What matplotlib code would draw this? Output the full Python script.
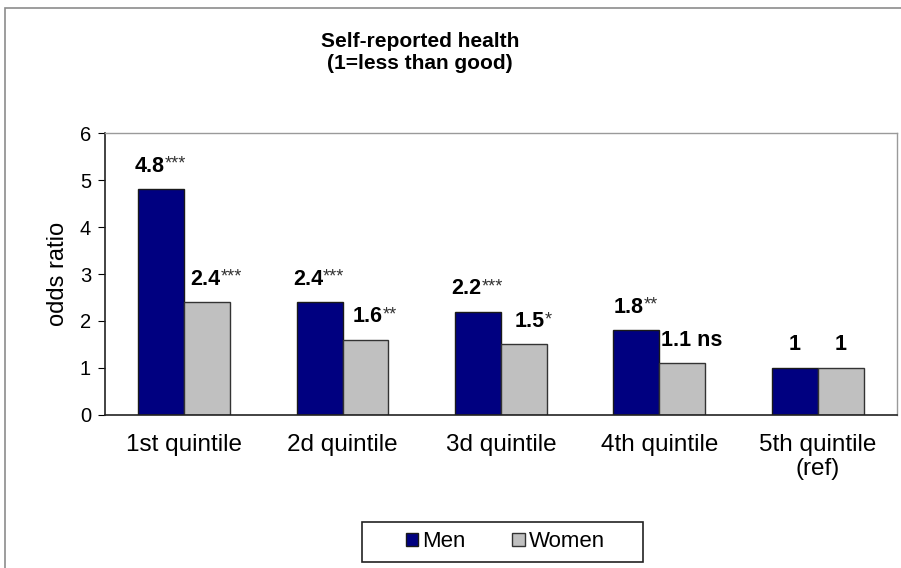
import numpy as np
import matplotlib.pyplot as plt
from matplotlib.patches import Rectangle

plt.rcParams['font.family'] = ['Liberation Sans', 'DejaVu Sans']

# data
categories = ["1st quintile", "2d quintile", "3d quintile", "4th quintile", "5th quintile\n(ref)"]
men = [4.8, 2.4, 2.2, 1.8, 1.0]
women = [2.4, 1.6, 1.5, 1.1, 1.0]
men_labels = ["4.8", "2.4", "2.2", "1.8", "1"]
men_stars = ["***", "***", "***", "**", ""]
women_labels = ["2.4", "1.6", "1.5", "1.1 ns", "1"]
women_stars = ["***", "**", "*", "", ""]

fig = plt.figure(figsize=(9.01, 5.68), dpi=100)
ax = fig.add_axes([0.1165, 0.2694, 0.879, 0.4964])

# outer chart border (left and top visible)
fig.patches.append(Rectangle((5 / 901, -0.1), 1.2, 1.1 - 8 / 568, transform=fig.transFigure,
                             fill=False, edgecolor="#8c8c8c", linewidth=1.2))

x = np.arange(len(categories))
w = 0.29
b1 = ax.bar(x - w / 2, men, w, color="#000080", edgecolor="#1a1a1a", linewidth=1, label="Men")
b2 = ax.bar(x + w / 2, women, w, color="#c0c0c0", edgecolor="#333333", linewidth=1, label="Women")


def add_label(xp, v, txt, stars, dx):
    shift = -len(stars) * 2.8
    t = ax.annotate(txt, xy=(xp, v), xytext=(dx + shift, 9), textcoords="offset points",
                    ha="center", va="bottom", fontsize=15.5, fontweight="bold")
    if stars:
        ax.annotate(stars, xy=(1.0, 1.0), xycoords=t, ha="left", va="top", fontsize=13,
                    color="#333333")


for i in range(len(categories)):
    add_label(x[i] - w / 2, men[i], men_labels[i], men_stars[i], 0)
    dx = 7 if i < len(categories) - 1 else 0
    add_label(x[i] + w / 2, women[i], women_labels[i], women_stars[i], dx)

ax.set_xlim(-0.5, len(categories) - 0.5)
ax.set_ylim(0, 6)
ax.set_yticks(range(0, 7))
ax.set_xticks(x)
ax.set_xticklabels(categories, fontsize=17.5, linespacing=1.1)
ax.tick_params(axis="x", length=0, pad=14)
ax.tick_params(axis="y", labelsize=14.5, length=5, direction="out", pad=5)
ax.set_ylabel("odds ratio", fontsize=17, labelpad=8)

for s in ["left", "bottom"]:
    ax.spines[s].set_color("#222222")
    ax.spines[s].set_linewidth(1.2)
for s in ["top", "right"]:
    ax.spines[s].set_color("#9a9a9a")
    ax.spines[s].set_linewidth(1)

fig.text(0.466, 0.9076, "Self-reported health\n(1=less than good)", ha="center", va="center",
         fontsize=15, fontweight="bold", linespacing=1.2)

# legend: entries without frame, box drawn separately
leg = fig.legend(handles=[b1, b2], loc="center", bbox_to_anchor=(0.561, 0.0458), ncol=2,
                 fontsize=16, frameon=False, handlelength=0.55, handleheight=0.55,
                 handletextpad=0.2, columnspacing=2.1)
fig.patches.append(Rectangle((362 / 901, 1 - 562 / 568), 281 / 901, 40 / 568,
                             transform=fig.transFigure, fill=False,
                             edgecolor="#222222", linewidth=1.2))

fig.savefig("out.png", dpi=100)
